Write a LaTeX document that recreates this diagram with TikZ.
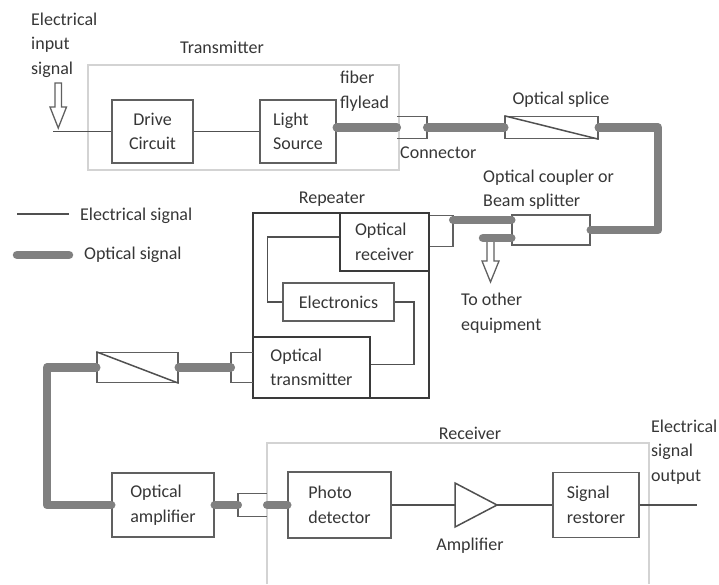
\documentclass[tikz,border=0pt]{standalone}
\usepackage{fontspec}
\setmainfont{Carlito}
\definecolor{txt}{HTML}{363636}
\definecolor{wirec}{HTML}{505050}
\definecolor{boxc}{HTML}{606060}
\definecolor{outerc}{HTML}{D3D3D3}
\definecolor{optc}{HTML}{808080}
\definecolor{repc}{HTML}{3A3A3A}
\begin{document}
\begin{tikzpicture}[x=1pt,y=-1pt,
  every node/.style={font=\fontsize{18}{24.5}\selectfont, text=txt},
  blk/.style={draw=boxc, line width=1.5pt, inner sep=0pt, align=left},
  rblk/.style={draw=repc, line width=1.5pt, inner sep=0pt, align=left},
  cn/.style={inner sep=0pt},
  cnline/.style={draw=boxc, line width=1.5pt},
  wire/.style={draw=wirec, line width=1.5pt},
  optic/.style={draw=optc, line width=8.5pt, line cap=round, line join=round},
  outer/.style={draw=outerc, line width=1.2pt},
  lbl/.style={inner sep=0pt, align=left},
  harrow/.style={draw=boxc, line width=1.3pt, fill=white, line join=miter}]
\useasboundingbox (0,0) rectangle (719,584);

% outer boxes
\node[outer, inner sep=0pt, minimum width=311pt, minimum height=105pt] (tx) at (243.5,117.5) {};
\draw[outer] (267,584) -- (267,443) -- (649,443) -- (649,584);
\node[draw=repc, line width=1.4pt, inner sep=0pt, minimum width=176pt, minimum height=185pt] (rep) at (341,305.5) {};

% labels
\node[lbl, anchor=west] (lin) at (31,45) {Electrical\\input\\signal};
\node[lbl] (ltx) at (222,47) {Transmitter};
\node[lbl, anchor=west] (lfib) at (340,91) {fiber\\flylead};
\node[lbl, anchor=west] (lcon) at (400,153) {Connector};
\node[lbl] (lspl) at (561,100) {Optical splice};
\node[lbl, anchor=west] (lcpl) at (483,189.5) {Optical coupler or\\Beam splitter};
\node[lbl] (lrep) at (332,199) {Repeater};
\node[lbl, anchor=west] (lel) at (80,216) {Electrical signal};
\node[lbl, anchor=west] (lop) at (84,255) {Optical signal};
\node[lbl, anchor=west] (loth) at (461,313) {To other\\equipment};
\node[lbl] (lrcv) at (470,433) {Receiver};
\node[lbl] (lamp) at (470,546) {Amplifier};
\node[lbl, anchor=west] (lout) at (651,452) {Electrical\\signal\\output};

% blocks
\node[blk, align=center, minimum width=81pt, minimum height=63pt] (drive) at (152.5,131.5) {Drive\\Circuit};
\node[blk, minimum width=76pt, minimum height=63pt] (light) at (298,131.5) {Light\\Source};
\node[cn, minimum width=30pt, minimum height=22pt] (conn1) at (412,127.5) {};
\node[blk, minimum width=93pt, minimum height=22pt] (splice1) at (551.5,127.5) {};
\node[blk, minimum width=78pt, minimum height=30pt] (coupler) at (551,230) {};
\node[cn, minimum width=23pt, minimum height=31pt] (conn2) at (441.5,231) {};
\node[rblk, minimum width=89pt, minimum height=58pt] (orx) at (384.5,242) {Optical\\receiver};
\node[blk, minimum width=111pt, minimum height=38pt] (elec) at (338.5,302) {Electronics};
\node[rblk, minimum width=117pt, minimum height=61pt] (otx) at (311.5,367.5) {Optical\\transmitter};
\node[cn, minimum width=22pt, minimum height=30pt] (conn3) at (242,367.5) {};
\node[blk, minimum width=81pt, minimum height=30pt] (splice2) at (137.5,367.5) {};
\node[blk, minimum width=102pt, minimum height=64pt] (oamp) at (163,505) {Optical\\amplifier};
\node[cn, minimum width=29pt, minimum height=23pt] (conn4) at (252.5,505) {};
\node[blk, minimum width=103pt, minimum height=66pt] (pd) at (339.5,505) {Photo\\detector};
\node[blk, minimum width=86pt, minimum height=65pt] (rest) at (596,505) {Signal\\restorer};

% connectors (open on one side)
\draw[cnline] (conn1.north west) -- (conn1.north east) -- (conn1.south east) -- (conn1.south west);
\draw[cnline] (conn2.north west) -- (conn2.north east) -- (conn2.south east) -- (conn2.south west);
\draw[cnline] (conn3.north east) -- (conn3.north west) -- (conn3.south west) -- (conn3.south east);
\draw[cnline] (conn4.north east) -- (conn4.north west) -- (conn4.south west) -- (conn4.south east);

% splice diagonals
\draw[wire] (splice1.north west) -- (splice1.south east);
\draw[wire] (splice2.north west) -- (splice2.south east);

% coordinates
\coordinate (in) at (53,131.5);
\coordinate (k1) at (658,127.5);
\coordinate (k2) at (658,230);
\coordinate (k3) at (47,367.5);
\coordinate (k4) at (47,505);
\coordinate (split) at (483,238);
\coordinate (ampin) at (455,505);
\coordinate (ampout) at (497,505);
\coordinate (out) at (697,505);
\coordinate (le1) at (17,214);
\coordinate (le2) at (69,214);
\coordinate (lo1) at (17,255);
\coordinate (lo2) at (69,255);

% hollow arrows
\draw[harrow] (55,83) -- (61.5,83) -- (61.5,107) -- (66.5,107) -- (58.25,128) -- (50,107) -- (55,107) -- cycle;
\draw[harrow] (487,238) -- (494,238) -- (494,261) -- (499,261) -- (490.5,282) -- (482,261) -- (487,261) -- cycle;

% electrical wires
\draw[wire] (in) -- (drive.west);
\draw[wire] (drive.east) -- (light.west);
\draw[wire] ([yshift=5pt]orx.west) -- ++(-72,0) |- (elec.west);
\draw[wire] (elec.east) -- ++(19,0) |- ([yshift=3pt]otx.east);
\draw[wire] ([yshift=22pt]ampin) -- (ampout) -- ([yshift=-22pt]ampin) -- cycle;
\draw[wire] (pd.east) -- (ampin);
\draw[wire] (ampout) -- (rest.west);
\draw[wire] (rest.east) -- (out);

% optical fibres
\draw[optic] ([yshift=4pt]light.east) -- (conn1.west);
\draw[optic] (conn1.east) -- (splice1.west);
\draw[optic] (splice1.east) -- (k1) -- (k2) -- (coupler.east);
\draw[optic] ([yshift=10pt]coupler.west) -- ([yshift=11pt]conn2.east);
\draw[optic] ([yshift=-8pt]coupler.west) -- (split);
\draw[optic] (conn3.west) -- (splice2.east);
\draw[optic] (splice2.west) -- (k3) -- (k4) -- (oamp.west);
\draw[optic] (oamp.east) -- (conn4.west);
\draw[optic] (conn4.east) -- (pd.west);

% legend
\draw[wire] (le1) -- (le2);
\draw[optic] (lo1) -- (lo2);
\end{tikzpicture}
\end{document}
